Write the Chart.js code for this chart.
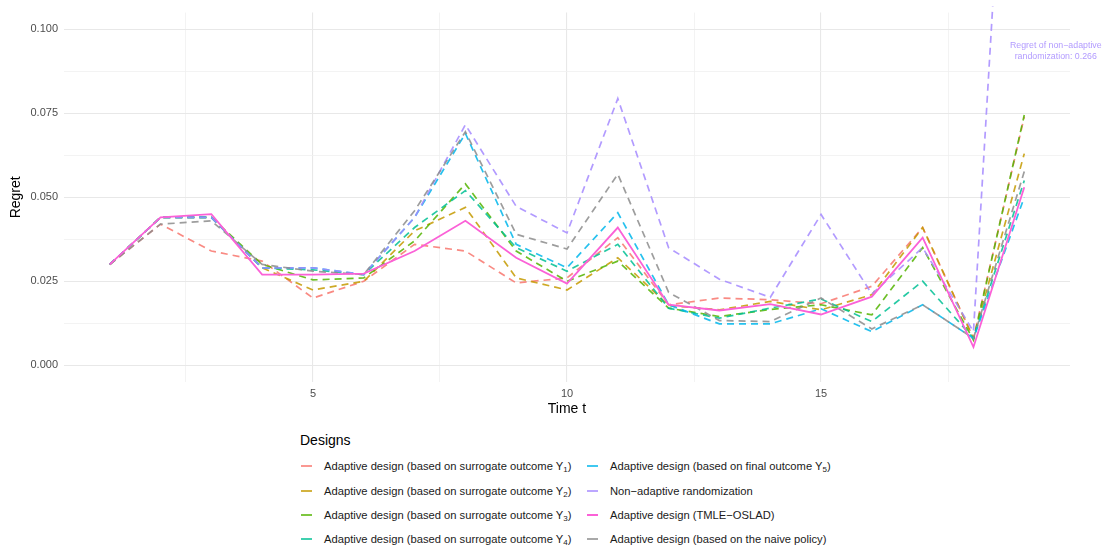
<!DOCTYPE html>
<html><head><meta charset="utf-8">
<script src="https://cdn.jsdelivr.net/npm/chart.js@4"></script>
<style>
html,body{margin:0;padding:0;background:#fff;}
body{width:1103px;height:550px;position:relative;overflow:hidden;font-family:"Liberation Sans",Arial,sans-serif;}
#wrap{position:absolute;left:0;top:0;width:1103px;height:425px;}
#legTitle{position:absolute;left:300px;top:431px;font-size:14px;color:#000;line-height:18px;}
.item{position:absolute;height:18px;line-height:18px;font-size:11.2px;color:#1a1a1a;white-space:nowrap;}
.key{position:absolute;left:0;top:8px;width:11px;height:2px;}
.lab{position:absolute;left:23px;top:0;}
.lab sub{font-size:8px;vertical-align:-2px;line-height:0;}
</style></head>
<body>
<div id="wrap"><canvas id="c" width="1103" height="425"></canvas></div>
<div id="legTitle">Designs</div>
<div id="legend"></div>
<script>
const timePoints = [1,2,3,4,5,6,7,8,9,10,11,12,13,14,15,16,17,18,19];
const seriesNames = [
  "Adaptive design (based on surrogate outcome Y_1)",
  "Adaptive design (based on surrogate outcome Y_2)",
  "Adaptive design (based on surrogate outcome Y_3)",
  "Adaptive design (based on surrogate outcome Y_4)",
  "Adaptive design (based on final outcome Y_5)",
  "Non\u2212adaptive randomization",
  "Adaptive design (TMLE\u2212OSLAD)",
  "Adaptive design (based on the naive policy)"
];
const surrogateY1 = [0.030,0.042,0.034,0.031,0.020,0.025,0.036,0.034,0.0245,0.026,0.038,0.018,0.020,0.0195,0.0183,0.0235,0.041,0.008,0.074];
const surrogateY2 = [0.030,0.044,0.044,0.029,0.0224,0.025,0.040,0.047,0.026,0.0224,0.032,0.0178,0.0165,0.019,0.0165,0.021,0.041,0.008,0.063];
const surrogateY3 = [0.030,0.044,0.044,0.030,0.0254,0.026,0.037,0.054,0.034,0.025,0.031,0.017,0.0145,0.0166,0.018,0.015,0.035,0.0075,0.0745];
const surrogateY4 = [0.030,0.044,0.044,0.029,0.0284,0.027,0.041,0.052,0.035,0.028,0.036,0.017,0.014,0.017,0.0197,0.013,0.025,0.008,0.055];
const finalY5     = [0.030,0.044,0.044,0.029,0.029,0.027,0.044,0.069,0.036,0.029,0.0454,0.018,0.0123,0.0123,0.0168,0.010,0.018,0.008,0.050];
const nonAdaptive = [0.030,0.044,0.044,0.029,0.029,0.027,0.044,0.0716,0.0473,0.0394,0.0794,0.035,0.0256,0.0202,0.0449,0.0212,0.035,0.010,0.266];
const tmleOslad   = [0.030,0.044,0.045,0.027,0.027,0.0273,0.034,0.043,0.032,0.0243,0.041,0.018,0.0163,0.0182,0.0151,0.0204,0.038,0.0054,0.053];
const naivePolicy = [0.030,0.042,0.043,0.030,0.028,0.027,0.046,0.0695,0.039,0.0346,0.0569,0.0217,0.0133,0.013,0.020,0.0108,0.018,0.008,0.0577];
const allSeries = [surrogateY1,surrogateY2,surrogateY3,surrogateY4,finalY5,nonAdaptive,tmleOslad,naivePolicy];
const seriesColors = ["#F8766D","#C49A00","#53B400","#00C094","#00B6EB","#A58AFF","#FB61D7","#8C8C8C"];
const seriesDashed = [true,true,true,true,true,true,false,true];
const seriesOrder  = [7,6,5,4,3,2,0,1];
const xGridVals = [2.5,5,7.5,10,12.5,15,17.5];
const xTickLabels = [5,10,15];
const yGridVals = [0,0.0125,0.025,0.0375,0.05,0.0625,0.075,0.0875,0.1];
const yTickLabels = [0,0.025,0.05,0.075,0.1];
const annotationLines = ["Regret of non\u2212adaptive","randomization: 0.266"];
const annotationAt = {t:19.62, v:0.0935};
const legendColumns = [[0,1,2,3],[4,5,6,7]];

function hexA(h,a){const r=parseInt(h.slice(1,3),16),g=parseInt(h.slice(3,5),16),b=parseInt(h.slice(5,7),16);return `rgba(${r},${g},${b},${a})`;}
const plain = s => s.replace(/_(\d)/g,'$1');

const datasets = allSeries.map((vals,i)=>({
  label: plain(seriesNames[i]),
  data: vals.map((v,k)=>({x:timePoints[k],y:v})),
  borderColor: seriesDashed[i]? hexA(seriesColors[i],0.85) : seriesColors[i],
  borderWidth: seriesDashed[i]? 1.7 : 1.8,
  borderDash: seriesDashed[i]? [7,5] : [],
  pointRadius: 0, tension: 0, fill:false,
  clip: {left:0, top:6, right:0, bottom:0},
  order: seriesOrder[i]
}));

const isIn = (arr,v)=>arr.some(a=>Math.abs(a-v)<1e-9);

const annotPlugin = {
  id:'annot',
  afterDatasetsDraw(chart){
    const {ctx,scales:{x,y}} = chart;
    ctx.save();
    ctx.font = '8.8px "Liberation Sans", Arial, sans-serif';
    ctx.fillStyle = hexA("#A58AFF",0.85);
    ctx.textAlign='center'; ctx.textBaseline='middle';
    const px = x.getPixelForValue(annotationAt.t), py = y.getPixelForValue(annotationAt.v);
    ctx.fillText(annotationLines[0], px, py-5.5);
    ctx.fillText(annotationLines[1], px, py+5.5);
    ctx.restore();
  }
};

new Chart(document.getElementById('c'),{
  type:'line',
  data:{datasets},
  options:{
    responsive:false, animation:false, events:[],
    layout:{padding:{left:0,right:33,top:10,bottom:7}},
    plugins:{legend:{display:false},tooltip:{enabled:false}},
    scales:{
      x:{type:'linear',min:0.1,max:19.9,
        afterBuildTicks:s=>{s.ticks=xGridVals.map(v=>({value:v}));},
        afterFit:s=>{s.height=36;},
        ticks:{autoSkip:false,maxRotation:0,padding:5,color:'#4d4d4d',font:{size:11,family:'"Liberation Sans", Arial, sans-serif'},
          callback:v=>isIn(xTickLabels,v)?String(v):''},
        grid:{drawTicks:false,color:c=>isIn(xTickLabels,c.tick.value)?'#e8e8e8':'#f0f0f0',lineWidth:c=>isIn(xTickLabels,c.tick.value)?1.1:0.8},
        border:{display:false},
        title:{display:true,text:'Time t',color:'#000',padding:0,font:{size:14,family:'"Liberation Sans", Arial, sans-serif'}}
      },
      y:{type:'linear',min:-0.005,max:0.105,
        afterBuildTicks:s=>{s.ticks=yGridVals.map(v=>({value:v}));},
        afterFit:s=>{s.width=64;},
        ticks:{autoSkip:false,padding:6,color:'#4d4d4d',font:{size:11,family:'"Liberation Sans", Arial, sans-serif'},
          callback:v=>isIn(yTickLabels,v)?v.toFixed(3):''},
        grid:{drawTicks:false,color:c=>isIn(yTickLabels,c.tick.value)?'#e8e8e8':'#f0f0f0',lineWidth:c=>isIn(yTickLabels,c.tick.value)?1.1:0.8},
        border:{display:false},
        title:{display:true,text:'Regret',color:'#000',padding:{top:8,bottom:0},font:{size:14,family:'"Liberation Sans", Arial, sans-serif'}}
      }
    }
  },
  plugins:[annotPlugin]
});

// HTML legend
const leg = document.getElementById('legend');
const colX = [301,587], rowY = [457,482,506,530];
legendColumns.forEach((col,ci)=>col.forEach((si,ri)=>{
  const d=document.createElement('div'); d.className='item';
  d.style.left=colX[ci]+'px'; d.style.top=rowY[ri]+'px';
  const k=document.createElement('div'); k.className='key';
  k.style.background=hexA(seriesColors[si], seriesDashed[si]?0.75:1);
  const l=document.createElement('div'); l.className='lab';
  l.innerHTML=seriesNames[si].replace(/_(\d)/g,'<sub>$1</sub>');
  d.appendChild(k); d.appendChild(l); leg.appendChild(d);
}));
</script>
</body></html>
